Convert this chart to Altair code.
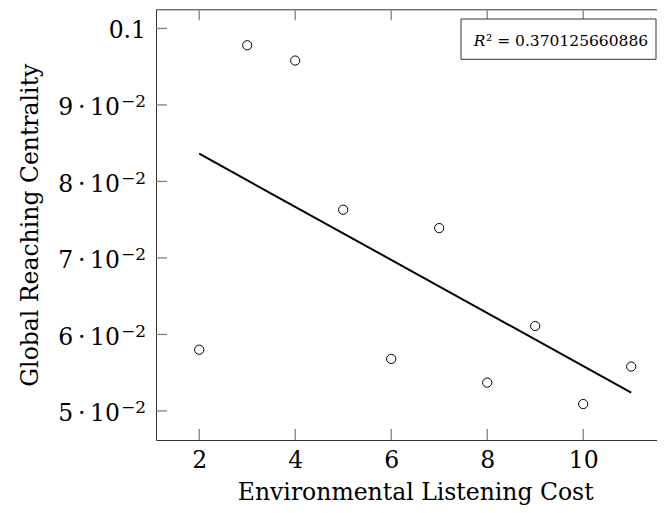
import altair as alt
import pandas as pd

# ---- data ----
listening_cost = [2, 3, 4, 5, 6, 7, 8, 9, 10, 11]
reaching_centrality = [0.0580, 0.0978, 0.0958, 0.0763, 0.0568, 0.0739, 0.0537, 0.0611, 0.0509, 0.0558]
x_ticks = [2, 4, 6, 8, 10]
y_ticks = [0.05, 0.06, 0.07, 0.08, 0.09, 0.10]
y_tick_mantissa = ["5\u2009\u00b7\u200910", "6\u2009\u00b7\u200910", "7\u2009\u00b7\u200910",
                   "8\u2009\u00b7\u200910", "9\u2009\u00b7\u200910", "0.1"]
y_tick_exponent = ["\u22122", "\u22122", "\u22122", "\u22122", "\u22122", ""]
r2_symbol = ["R"]
r2_rest = ["\u00b2 = 0.370125660886"]

x_domain = [1.1, 11.9]
y_domain = [0.0462, 0.1025]

df = pd.DataFrame({"x": listening_cost, "y": reaching_centrality})
ytick_df = pd.DataFrame({"t": y_ticks, "m": y_tick_mantissa, "e": y_tick_exponent})
xtick_df = pd.DataFrame({"t": x_ticks})

FONT = "DejaVu Serif"
FS = 23.5
W, H = 518.4, 430.7
TICK_COLOR = "#808080"
TL = 11  # tick length (inward)
TW = 1.3

xs = alt.Scale(domain=x_domain, nice=False, zero=False)
ys = alt.Scale(domain=y_domain, nice=False, zero=False)

base = alt.Chart(df)

points = base.mark_point(
    shape="circle", filled=False, color="black", size=85, strokeWidth=1, opacity=1
).encode(
    x=alt.X("x:Q", scale=xs, axis=alt.Axis(
        values=x_ticks, orient="bottom", ticks=False, tickSize=0, domain=False, grid=False,
        labelFont=FONT, labelFontSize=FS, labelColor="black", labelPadding=8, labelFlush=False,
        title="Environmental Listening Cost", titleFont=FONT, titleFontSize=FS,
        titleFontWeight="normal", titleColor="black", titleY=59, titleBaseline="alphabetic")),
    y=alt.Y("y:Q", scale=ys, axis=alt.Axis(
        values=y_ticks, orient="left", ticks=False, tickSize=0, domain=False, grid=False,
        labels=False,
        title="Global Reaching Centrality", titleFont=FONT, titleFontSize=FS,
        titleFontWeight="normal", titleColor="black", titleX=-119, titleBaseline="alphabetic")),
)

line = base.transform_regression("x", "y").mark_line(color="black", strokeWidth=2).encode(
    x=alt.X("x:Q", scale=xs),
    y=alt.Y("y:Q", scale=ys),
)

# inward ticks on all four sides, placed by the scales
xt = alt.Chart(xtick_df)
yt = alt.Chart(ytick_df)
ticks_bottom = xt.mark_tick(color=TICK_COLOR, size=TL, thickness=TW, orient="vertical", opacity=1).encode(
    x=alt.X("t:Q", scale=xs), y=alt.value(H - TL / 2))
ticks_top = xt.mark_tick(color=TICK_COLOR, size=TL, thickness=TW, orient="vertical", opacity=1).encode(
    x=alt.X("t:Q", scale=xs), y=alt.value(TL / 2))
ticks_left = yt.mark_tick(color=TICK_COLOR, size=TL, thickness=TW, orient="horizontal", opacity=1).encode(
    y=alt.Y("t:Q", scale=ys), x=alt.value(TL / 2))
ticks_right = yt.mark_tick(color=TICK_COLOR, size=TL, thickness=TW, orient="horizontal", opacity=1).encode(
    y=alt.Y("t:Q", scale=ys), x=alt.value(W - TL / 2))

# y tick labels: mantissa and superscript exponent
lab_main = yt.transform_filter("datum.e != ''").mark_text(
    font=FONT, fontSize=FS, align="right", baseline="alphabetic", dy=10.5, color="black"
).encode(y=alt.Y("t:Q", scale=ys), x=alt.value(-36), text="m:N")
lab_top = yt.transform_filter("datum.e == ''").mark_text(
    font=FONT, fontSize=FS, align="right", baseline="alphabetic", dy=10, color="black"
).encode(y=alt.Y("t:Q", scale=ys), x=alt.value(-10), text="m:N")
lab_exp = yt.transform_filter("datum.e != ''").mark_text(
    font=FONT, fontSize=17, align="right", baseline="alphabetic", dy=2.4, color="black"
).encode(y=alt.Y("t:Q", scale=ys), x=alt.value(-10), text="e:N")

box_data = alt.Chart(pd.DataFrame({"sym": r2_symbol, "rest": r2_rest}))
box = box_data.mark_rect(fill="white", stroke="#333333", strokeWidth=1).encode(
    x=alt.value(305), x2=alt.value(500), y=alt.value(9.7), y2=alt.value(50)
)
r_text = box_data.mark_text(
    font=FONT, fontSize=15.5, fontStyle="italic", align="right", baseline="alphabetic", color="black"
).encode(text="sym:N", x=alt.value(329.5), y=alt.value(36.5))
rest_text = box_data.mark_text(
    font=FONT, fontSize=15.5, align="left", baseline="alphabetic", color="black"
).encode(text="rest:N", x=alt.value(330), y=alt.value(36.5))

chart = alt.layer(
    points, line, ticks_bottom, ticks_top, ticks_left, ticks_right,
    lab_main, lab_top, lab_exp, box, r_text, rest_text
).properties(
    width=W, height=H,
    autosize=alt.AutoSizeParams(type="none"),
    padding={"left": 148, "top": 1.3, "right": -17.4, "bottom": 65},
    background="white",
).configure_view(stroke="#333333", strokeWidth=1)

chart.save("out.html", embed_options={"renderer": "svg", "actions": False})
